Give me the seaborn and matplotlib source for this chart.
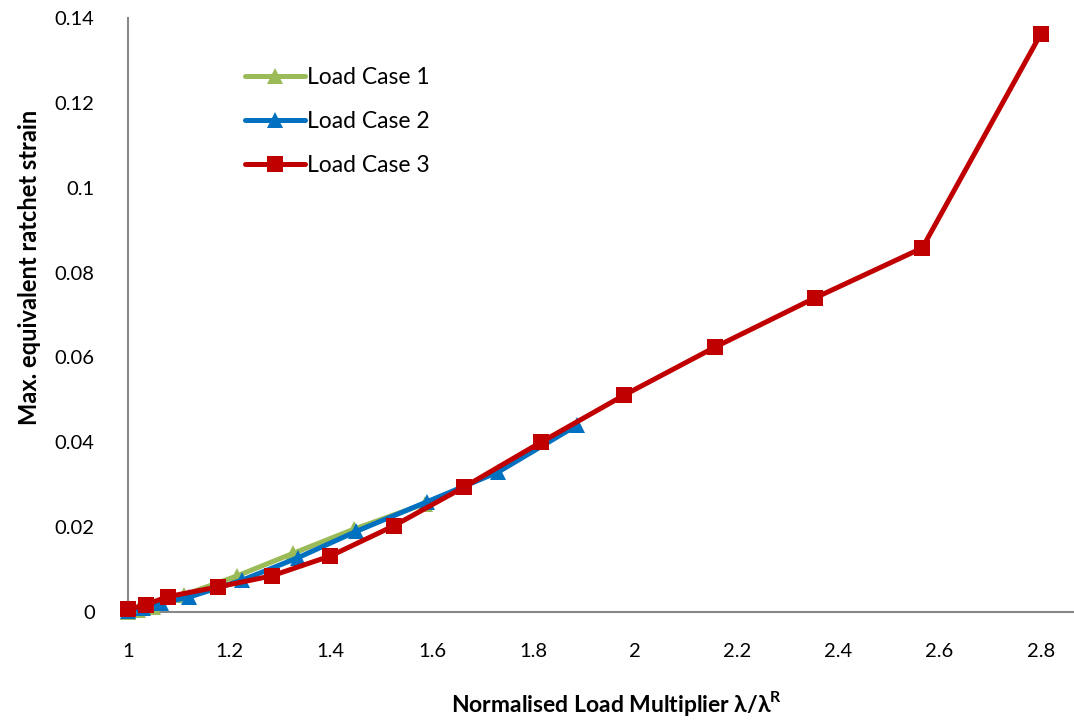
import numpy as np
import pandas as pd
import matplotlib
matplotlib.use("Agg")
import matplotlib.pyplot as plt
import seaborn as sns
from matplotlib.ticker import FuncFormatter, MultipleLocator

# Load multiplier (normalised) and maximum equivalent ratchet strain per load case
case1_x = [1.0, 1.02, 1.05, 1.11, 1.215, 1.325, 1.445, 1.585]
case1_y = [0.0, 0.0005, 0.0012, 0.0040, 0.0085, 0.0138, 0.0195, 0.0255]

case2_x = [1.0, 1.03, 1.065, 1.12, 1.225, 1.335, 1.45, 1.59, 1.73, 1.885]
case2_y = [0.0003, 0.0009, 0.0021, 0.0035, 0.0075, 0.0128, 0.0190, 0.0260, 0.0330, 0.0440]

case3_x = [1.0, 1.035, 1.078, 1.177, 1.283, 1.399, 1.524, 1.662, 1.814, 1.978,
           2.157, 2.354, 2.566, 2.8]
case3_y = [0.0006, 0.0017, 0.0036, 0.0059, 0.0085, 0.0132, 0.0203, 0.0294, 0.0400, 0.0511,
           0.0624, 0.0740, 0.0858, 0.1363]

series_names = ["Load Case 1", "Load Case 2", "Load Case 3"]
series_colors = ["#9BBB59", "#0070C0", "#C00000"]
series_markers = ["^", "^", "s"]

sns.set_theme(style="white")
plt.rcParams["font.family"] = ["Lato", "DejaVu Sans"]
plt.rcParams["text.color"] = "black"
plt.rcParams["axes.labelcolor"] = "black"

fig = plt.figure(figsize=(10.74, 7.23), dpi=100)
ax = fig.add_axes([128 / 1074, 1 - 612 / 723, 1 - 128 / 1074, (612 - 18) / 723])

data = [(case1_x, case1_y), (case2_x, case2_y), (case3_x, case3_y)]
for (xs, ys), name, col, mk in zip(data, series_names, series_colors, series_markers):
    df = pd.DataFrame({"x": xs, "y": ys})
    sns.lineplot(data=df, x="x", y="y", ax=ax, color=col, linewidth=3.6,
                 marker=mk, markersize=11 if mk == "s" else 12,
                 markeredgewidth=0, label=name, clip_on=False, zorder=3)

ax.set_xlim(1.0, 1 + (1074 - 128) / 507.2)
ax.set_ylim(0, 0.14)
ax.xaxis.set_major_locator(MultipleLocator(0.2))
ax.yaxis.set_major_locator(MultipleLocator(0.02))


def fmt(v, _):
    s = f"{v:.2f}".rstrip("0").rstrip(".")
    return s


ax.xaxis.set_major_formatter(FuncFormatter(fmt))
ax.yaxis.set_major_formatter(FuncFormatter(fmt))
ax.tick_params(axis="both", length=0, labelsize=14.5, colors="black")
ax.tick_params(axis="x", pad=22)
ax.tick_params(axis="y", pad=24)

for side in ["top", "right"]:
    ax.spines[side].set_visible(False)
for side in ["left", "bottom"]:
    ax.spines[side].set_color("#888888")
    ax.spines[side].set_linewidth(1.5)

ax.set_xlabel("Normalised Load Multiplier λ/λ$^{\\mathregular{R}}$", fontsize=16.5,
              fontweight="bold", va="center")
ax.set_ylabel("Max. equivalent ratchet strain", fontsize=17, fontweight="bold",
              va="center")
ax.xaxis.set_label_coords((617 - 128) / (1074 - 128), -(703 - 612) / 594)
ax.yaxis.set_label_coords(-(128 - 30) / (1074 - 128), (612 - 267) / 594)

leg = ax.legend(loc="upper left", bbox_to_anchor=((236 - 128) / 946, (612 - 58) / 594),
                frameon=False, fontsize=16.5, handlelength=2.6, handletextpad=0.1,
                labelspacing=1.0, borderaxespad=0)

fig.savefig("out.png", dpi=100, facecolor="white")
